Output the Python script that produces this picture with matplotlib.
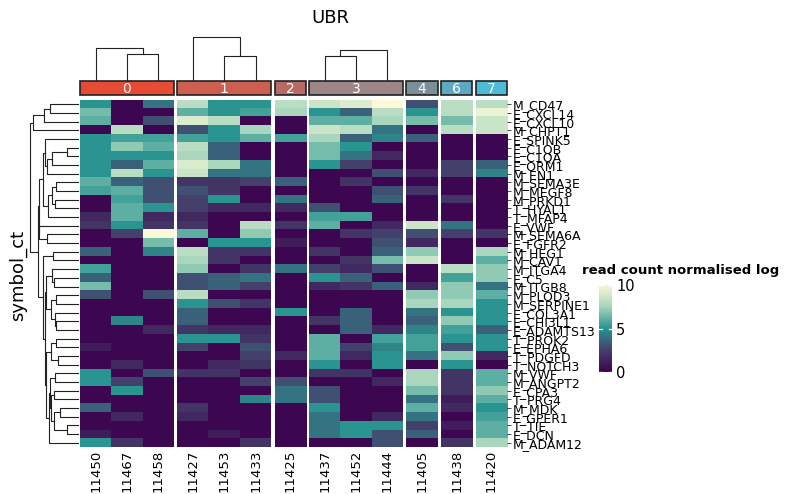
import numpy as np
import matplotlib
matplotlib.use("Agg")
import matplotlib.pyplot as plt
from matplotlib.colors import LinearSegmentedColormap

rows = ["M_CD47","E_CXCL14","E_CXCL10","M_CHPT1","E_SPINK5","E_C1QB","E_C1QA","E_ORM1","M_EN1",
        "M_SEMA3E","M_MEGF8","M_PRKD1","T_HYAL1","T_MFAP4","E_VWF","M_SEMA6A","E_FGFR2","M_HEG1",
        "M_CAV1","M_ITGA4","E_C5","M_ITGB8","M_PLOD3","M_SERPINE1","E_COL3A1","E_CHI3L1","E_ADAMTS13",
        "T_PROK2","E_EPHA6","T_PDGFD","T_NOTCH3","M_VWF","M_ANGPT2","E_CPA3","T_PRG4","M_MDK",
        "E_GPER1","T_TIE","E_DCN","M_ADAM12"]
cols = ["11450","11467","11458","11427","11453","11433","11425","11437","11452","11444","11405","11438","11420"]
groups = ["0","0","0","1","1","1","2","3","3","3","4","6","7"]
group_names = ["0","1","2","3","4","6","7"]
group_colors = ["#e64b35","#cc5f50","#b56a66","#9e8686","#7a8f98","#5fa8c2","#4dbbd5"]

values = [
[5,0,4, 8,5,5, 8, 8.5,9,10, 3, 8, 8],
[6.5,0,0, 6,5,5.5, 7.5, 5,3.5,8, 5, 8, 9.5],
[6,0,3, 9,8,0, 0, 6,6,7.5, 6.5, 6.5, 8.5],
[0,8,0, 3,5,7.5, 0, 8.5,8,4, 0, 8, 8.5],
[5,5.5,5.5, 5.5,5,6, 5.5, 7.5,3.5,4.5, 3.5, 0, 0],
[5,7,6, 8,3.5,0, 0, 6.5,5,0, 0, 0, 0],
[5,5,5, 7.5,3.5,0, 0, 6.5,4,1.5, 0, 0, 0],
[5,3.5,6, 9,7.5,4, 0, 5,2.5,0, 0, 2.5, 3.5],
[5,8,5, 8.5,4,4, 0, 0,0,3, 1.5, 2.5, 4.5],
[6,3.5,3, 2,2,2.5, 3.5, 0,2,0, 0, 0, 0],
[5.5,6,3, 3,2,0, 0, 0,0,3, 2, 0, 0],
[0,5.5,3, 2.5,5,0, 4, 0,0,3.5, 0, 2, 0],
[0,6,5, 2.5,1.5,1.5, 1.5, 3,0,0, 0, 0, 0],
[1.5,6,1.5, 1.5,0,0, 0, 5.5,5.5,0, 0, 0, 0],
[2,5,2, 2,0,8, 2, 6,0,1.5, 8.5, 4, 0],
[0,2.5,10, 6,0,7, 0, 0,2,2.5, 3, 2.5, 2],
[0,0,6.5, 0,5,5, 1, 0,0,3, 1.5, 0, 0],
[3.5,0,4.5, 8,2,2, 0, 2,0,3.5, 7, 0, 7.5],
[0,0,0, 7.5,2,0, 0, 0,2,6.5, 8.5, 0, 6],
[5.5,0,0, 7,0,2, 4, 2.5,1.5,3, 0, 8, 7],
[3.5,0,0, 3,3.5,4, 0, 5,3.5,0, 0, 5.5, 7],
[6.5,0,0, 3,3.5,2.5, 0, 1.5,2,3.5, 1.5, 7, 4],
[3,0,3, 8,0,0, 0, 0,0,0, 7, 7, 6],
[0,0,0, 5,3,2, 0, 0,0,0, 7.5, 7.5, 5],
[0,0,0, 3.5,0,0, 5, 0,3.5,0, 4, 5, 5],
[0,4.5,0, 3.5,0,0, 0, 2,3.5,0, 3.5, 7, 5],
[0,0,1.5, 2,1.5,1.5, 0, 0,3.5,1.5, 4.5, 5.5, 3.5],
[0,0,0, 5,5,2, 0, 6,0,5.5, 5.5, 5, 5],
[1,0,0, 2.5,0,3, 0, 6,2.5,4.5, 5.5, 3, 5],
[0,0,0, 0,0,2.5, 1.5, 6,1.5,5, 4, 7, 1.5],
[0,1.5,0, 0,1.5,2, 0, 5,0,5, 0, 5, 0],
[5,0,3, 2,2,0, 0, 2,2,0, 7.5, 2, 6],
[5,2.5,0, 0,0,2.5, 3, 0,0,1.5, 7.5, 2, 6],
[0,5,0, 0,0,0, 4, 3,0,0, 6.5, 2, 7],
[0,0,0, 0,0,4.5, 4, 3,0,0, 4, 1, 6],
[3.5,0,0, 2,0,0, 0, 5,0,0, 6, 1.5, 5],
[0,1.5,0, 1.5,0,0, 0, 4,0,1.5, 4, 0, 5.5],
[0,0,0, 0,0,0, 0, 4,5,5, 2.5, 1, 6],
[1,0,0, 0,1,0, 0, 4,5,3, 3.5, 0, 6],
[5,2,0, 0,0,2, 0, 0,0,3, 0, 2, 7.5],
]
M = np.array(values, dtype=float)

cmap = LinearSegmentedColormap.from_list("c", [(0,"#3d0650"),(0.25,"#45406c"),(0.5,"#2a9590"),(0.75,"#a9d6bd"),(1,"#fcf9da")])

W, H = 800, 494
fig = plt.figure(figsize=(W/100, H/100), dpi=100)
def ax_px(x0, y0, x1, y1):
    return fig.add_axes([x0/W, 1-y1/H, (x1-x0)/W, (y1-y0)/H])

hx0, hx1, hy0, hy1 = 80, 507, 100, 447
gap = 3.3
ncol = len(cols)
colw = (hx1-hx0 - gap*(len(group_names)-1))/ncol
nr = len(rows)

x = hx0
gstart = {}
for gi, g in enumerate(group_names):
    idx = [i for i in range(ncol) if groups[i] == g]
    gx0 = x
    axh = ax_px(gx0, hy0, gx0+colw*len(idx), hy1)
    axh.imshow(M[:, idx], cmap=cmap, vmin=0, vmax=10, aspect="auto", interpolation="nearest")
    axh.set_xticks(range(len(idx)))
    axh.set_xticklabels([cols[i] for i in idx], rotation=90, fontsize=9.5, family="DejaVu Sans")
    axh.tick_params(axis="x", length=0, pad=2)
    axh.set_yticks([])
    for s in axh.spines.values(): s.set_visible(False)
    if gi == len(group_names)-1:
        axh.yaxis.tick_right()
        axh.set_yticks(range(nr))
        axh.set_yticklabels(rows, fontsize=9, family="Liberation Sans Narrow")
        axh.tick_params(axis="y", length=3, pad=1, width=0.5)
    axb = ax_px(gx0, 81, gx0+colw*len(idx), 95)
    axb.set_xlim(0, 1); axb.set_ylim(0, 1)
    axb.add_patch(plt.Rectangle((0, 0), 1, 1, facecolor=group_colors[gi], edgecolor="#222222", lw=1.2, transform=axb.transAxes, clip_on=False))
    axb.text(0.5, 0.45, g, ha="center", va="center", color="white", fontsize=10)
    axb.axis("off")
    gstart[g] = (gx0, idx)
    x = gx0 + colw*len(idx) + gap

col_den = {"0": [(1, 2, 0.6), (0, None, 0.75)],
           "1": [(1, 2, 0.55), (0, None, 1.0)],
           "3": [(0, 1, 0.55), (None, 2, 0.7)]}
axd = ax_px(0, 0, W, H); axd.set_xlim(0, W); axd.set_ylim(H, 0); axd.axis("off")
dtop, dbot = 37, 80
def yh(h): return dbot - h*(dbot-dtop)
for g, merges in col_den.items():
    gx0, idx = gstart[g]
    xs = [gx0 + colw*(k+0.5) for k in range(len(idx))]
    a, b, h1 = merges[0]
    xa, xb = xs[a], xs[b]
    axd.plot([xa, xa, xb, xb], [dbot, yh(h1), yh(h1), dbot], color="#222", lw=0.8)
    mid = (xa+xb)/2
    c, d, h2 = merges[1]
    other = xs[c] if c is not None else xs[d]
    axd.plot([other, other, mid, mid], [dbot, yh(h2), yh(h2), yh(h1)], color="#222", lw=0.8)

rowh = (hy1-hy0)/nr
clusters = [{"m": [i], "pos": hy0+rowh*(i+0.5), "h": 0.0} for i in range(nr)]
links = []
def dist(a, b):
    return np.mean([np.linalg.norm(M[i]-M[j]) for i in a["m"] for j in b["m"]])
while len(clusters) > 1:
    ds = [dist(clusters[k], clusters[k+1]) for k in range(len(clusters)-1)]
    k = int(np.argmin(ds))
    a, b = clusters[k], clusters[k+1]
    h = max(ds[k], a["h"], b["h"])
    links.append((a["pos"], a["h"], b["pos"], b["h"], h))
    clusters[k:k+2] = [{"m": a["m"]+b["m"], "pos": (a["pos"]+b["pos"])/2, "h": h}]
hmax = max(l[4] for l in links)
rx1, rx0 = 78, 30
def xr(h): return rx1 - (h/hmax)**0.8*(rx1-rx0)
for pa, ha, pb, hb, h in links:
    axd.plot([xr(ha), xr(h), xr(h), xr(hb)], [pa, pa, pb, pb], color="#222", lw=0.8)

axd.text(330, 18, "UBR", ha="center", va="center", fontsize=13)
axd.text(18, 275, "symbol_ct", rotation=90, ha="center", va="center", fontsize=13)
axd.text(582, 270, "read count normalised log", ha="left", va="center", fontsize=9.5, fontweight="bold")

cax = ax_px(599, 285, 612, 375)
grad = np.linspace(10, 0, 200).reshape(-1, 1)
cax.imshow(grad, cmap=cmap, vmin=0, vmax=10, aspect="auto", extent=[0, 1, 0, 10])
cax.set_xticks([])
cax.yaxis.tick_right()
cax.set_yticks([0, 5, 10])
cax.tick_params(axis="y", length=0, labelsize=10.5, pad=3)
for t in [0, 5, 10]:
    cax.plot([0, 0.22], [t, t], color="white", lw=0.9)
    cax.plot([0.78, 1], [t, t], color="white", lw=0.9)
cax.set_ylim(-0.3, 10)
for s in cax.spines.values(): s.set_visible(False)

fig.savefig("out.png", dpi=100)
